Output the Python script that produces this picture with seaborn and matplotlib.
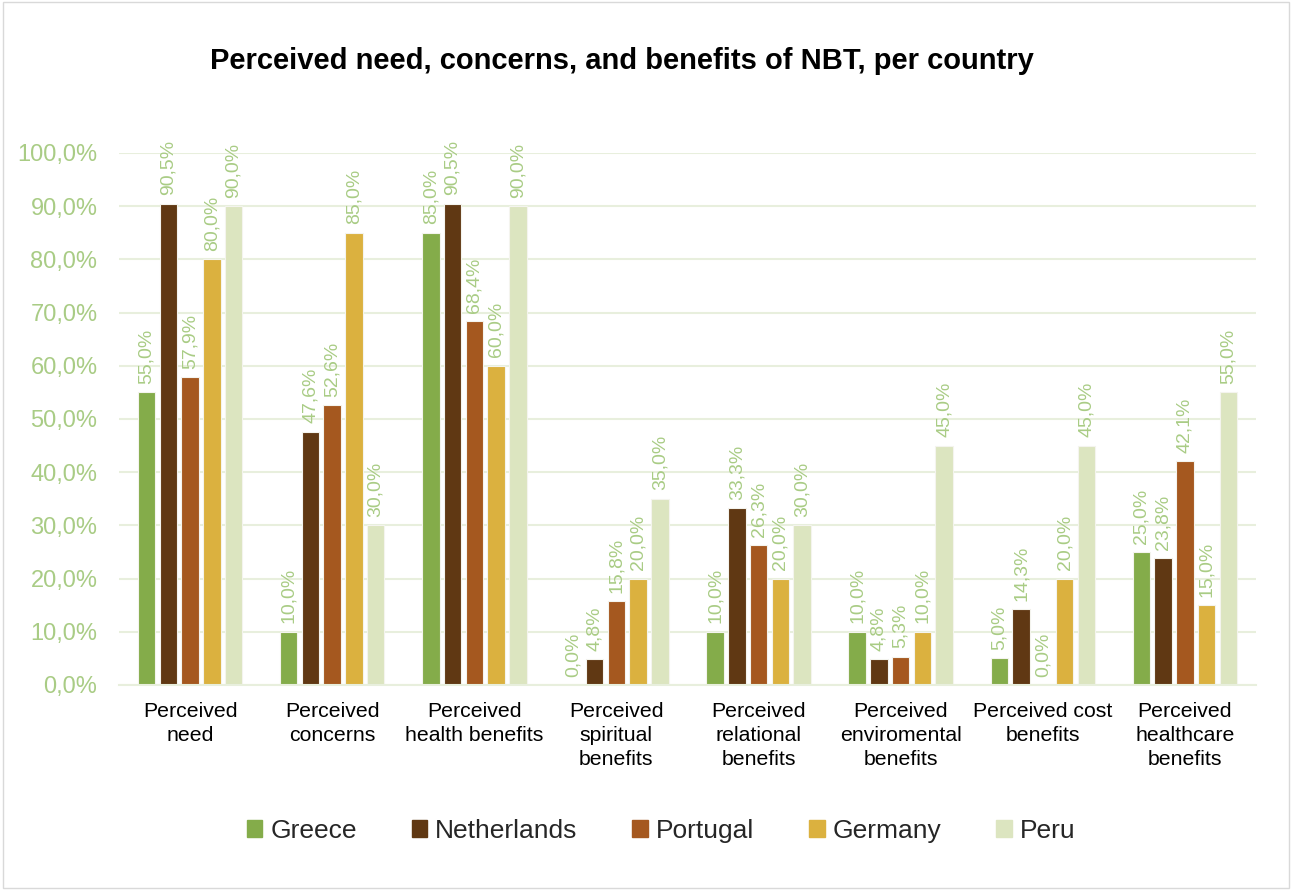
import matplotlib
matplotlib.use("Agg")
import matplotlib.pyplot as plt
import seaborn as sns
import pandas as pd
from matplotlib.patches import Rectangle

categories = ["Perceived\nneed", "Perceived\nconcerns", "Perceived\nhealth benefits",
              "Perceived\nspiritual\nbenefits", "Perceived\nrelational\nbenefits",
              "Perceived\nenviromental\nbenefits", "Perceived cost\nbenefits",
              "Perceived\nhealthcare\nbenefits"]
countries = ["Greece", "Netherlands", "Portugal", "Germany", "Peru"]
greece = [55.0, 10.0, 85.0, 0.0, 10.0, 10.0, 5.0, 25.0]
netherlands = [90.5, 47.6, 90.5, 4.8, 33.3, 4.8, 14.3, 23.8]
portugal = [57.9, 52.6, 68.4, 15.8, 26.3, 5.3, 0.0, 42.1]
germany = [80.0, 85.0, 60.0, 20.0, 20.0, 10.0, 20.0, 15.0]
peru = [90.0, 30.0, 90.0, 35.0, 30.0, 45.0, 45.0, 55.0]
yticks = [0, 10, 20, 30, 40, 50, 60, 70, 80, 90, 100]

colors = ["#84AC4A", "#603813", "#A5581F", "#DBB13F", "#DCE5C0"]
label_color = "#A9CC85"
grid_color = "#E8EFDD"

series = [greece, netherlands, portugal, germany, peru]
rows = []
for c, vals in zip(countries, series):
    for cat, v in zip(categories, vals):
        rows.append({"Category": cat, "Country": c, "Value": v})
df = pd.DataFrame(rows)

sns.set_theme(style="white")
plt.rcParams['font.family'] = ['Liberation Sans', 'DejaVu Sans']

fig = plt.figure(figsize=(12.92, 8.9), dpi=100)
ax = fig.add_axes([119/1292, 1 - 685/890, (1256-119)/1292, (685-153)/890])

sns.barplot(data=df, x="Category", y="Value", hue="Country", order=categories,
            hue_order=countries, palette=colors, saturation=1, width=0.765, gap=0.2,
            edgecolor="#F4F4EE", linewidth=0.8, ax=ax, legend=False, errorbar=None)

ax.set_ylim(0, 100)
ax.set_xlim(-0.5, len(categories) - 0.5)
ax.set_yticks(yticks)
ax.set_yticklabels([f"{t:.1f}%".replace(".", ",") for t in yticks],
                   color=label_color, fontsize=17)
ax.tick_params(axis="y", length=0, pad=15.5)
ax.tick_params(axis="x", length=0, pad=12.5, labelsize=15.3, labelcolor="black")
for lbl in ax.get_xticklabels():
    lbl.set_linespacing(1.32)
ax.set_xlabel("")
ax.set_ylabel("")
ax.yaxis.grid(True, color=grid_color, linewidth=1.5)
ax.set_axisbelow(True)
for s in ["left", "right", "top"]:
    ax.spines[s].set_visible(False)
ax.spines["bottom"].set_color(grid_color)
ax.spines["bottom"].set_linewidth(1.5)

for container in ax.containers:
    labels = [f"{v:.1f}%".replace(".", ",") for v in container.datavalues]
    ax.bar_label(container, labels=labels, rotation=90, padding=6,
                 color=label_color, fontsize=14, clip_on=False)

fig.text(622/1292, 1 - 61/890, "Perceived need, concerns, and benefits of NBT, per country",
         ha="center", va="center", fontsize=21, fontweight="bold", color="black")

handles = [Rectangle((0, 0), 1, 1, color=c) for c in colors]
fig.legend(handles, countries, loc="center", bbox_to_anchor=(661/1292, 1 - 831/890),
           ncol=5, frameon=False, fontsize=19, handlelength=0.6, handleheight=0.6,
           handletextpad=0.3, columnspacing=2.07)

fig.patches.append(Rectangle((0.002, 0.002), 0.996, 0.996, transform=fig.transFigure,
                             fill=False, edgecolor="#D9D9D9", linewidth=1))

fig.savefig("out.png", dpi=100)
